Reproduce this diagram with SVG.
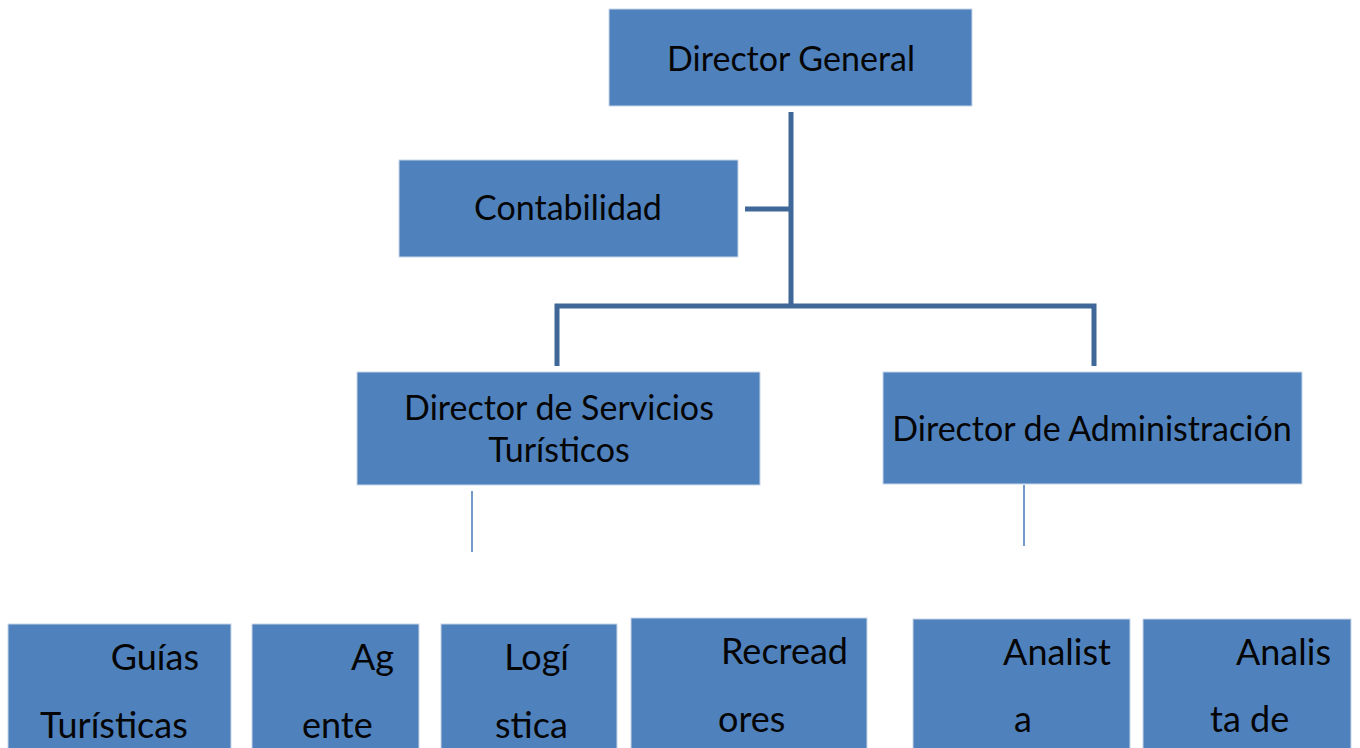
<svg xmlns="http://www.w3.org/2000/svg" width="1360" height="748" viewBox="0 0 1360 748">
<style>
.box{fill:#4F81BD;stroke:#C9D6E8;stroke-width:1}
.t{font-family:Lato,"Open Sans",sans-serif;font-size:34px;fill:#050505}
.b{font-size:36px}
.c{text-anchor:middle}
.e{text-anchor:end}
.main{stroke:#3F6797;stroke-width:5;fill:none}
.thin{stroke:#4F81BD;stroke-width:1.6;fill:none}
</style>
<rect width="1360" height="748" fill="#fff"/>
<g id="connectors">
<path class="main" d="M791 112 V306"/>
<path class="main" d="M745 209 H791"/>
<path class="main" d="M557 366 V306 H1094 V366"/>
<line class="thin" x1="472" y1="491" x2="472" y2="552"/>
<line class="thin" x1="1024" y1="485" x2="1024" y2="546"/>
</g>
<g id="director-general"><rect class="box" x="609" y="9" width="363" height="97"/><text class="t c" x="791" y="71">Director General</text></g>
<g id="contabilidad"><rect class="box" x="399" y="160" width="339" height="97"/><text class="t c" x="568" y="220">Contabilidad</text></g>
<g id="director-servicios"><rect class="box" x="357" y="372" width="403" height="113"/><text class="t c" x="559" y="420">Director de Servicios</text><text class="t c" x="559" y="462">Turísticos</text></g>
<g id="director-administracion"><rect class="box" x="883" y="372" width="419" height="112"/><text class="t c" x="1092" y="441">Director de Administración</text></g>
<g id="guias"><rect class="box" x="8" y="624" width="223" height="130"/><text class="t b e" x="199" y="670">Guías</text><text class="t b" x="40" y="738">Turísticas</text></g>
<g id="agente"><rect class="box" x="252" y="624" width="167" height="130"/><text class="t b e" x="394" y="670">Ag</text><text class="t b" x="302" y="738">ente</text></g>
<g id="logistica"><rect class="box" x="441" y="624" width="176" height="130"/><text class="t b e" x="569" y="670">Logí</text><text class="t b" x="495" y="738">stica</text></g>
<g id="recreadores"><rect class="box" x="631" y="618" width="236" height="136"/><text class="t b e" x="848" y="664">Recread</text><text class="t b" x="718" y="732">ores</text></g>
<g id="analista"><rect class="box" x="913" y="619" width="217" height="135"/><text class="t b e" x="1111" y="665">Analist</text><text class="t b" x="1014" y="732">a</text></g>
<g id="analista-de"><rect class="box" x="1143" y="619" width="208" height="135"/><text class="t b e" x="1331" y="665">Analis</text><text class="t b" x="1210" y="732">ta de</text></g>
</svg>
